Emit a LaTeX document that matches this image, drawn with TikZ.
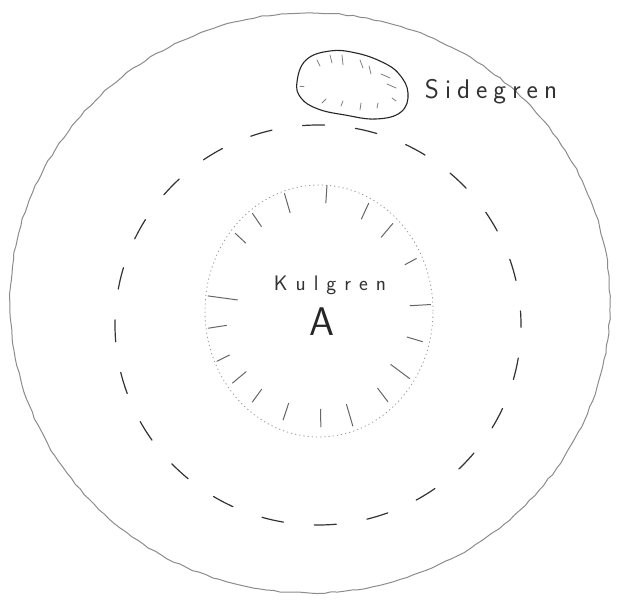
\documentclass[tikz,border=0pt]{standalone}
\usepackage{fontspec}
\usetikzlibrary{decorations.pathmorphing}
\begin{document}
\begin{tikzpicture}[x=1pt,y=-1pt,
  outerline/.style={draw=black!45, line width=1pt, decorate,
    decoration={random steps,segment length=7pt,amplitude=0.7pt}},
  dashline/.style={draw=black!80, line width=1.2pt, line cap=round,
    dash pattern=on 22pt off 31pt, dash phase=8pt},
  dotline/.style={draw=black!40, line width=0.8pt, dash pattern=on 1.2pt off 3pt},
  tickline/.style={draw=black!60, line width=1pt, line cap=round},
  blobline/.style={draw=black!85, line width=1.1pt},
  handtext/.style={text=black!80, inner sep=0pt, font=\sffamily}]
\useasboundingbox (0,0) rectangle (620,601);
\fill[white] (0,0) rectangle (620,601);

% outer circle
\draw[outerline] (310,303) ellipse [x radius=300pt, y radius=290pt];

% middle dashed circle
\draw[dashline] (318,325) ellipse [x radius=203pt, y radius=200pt];

% inner dotted circle
\draw[dotline] (319,311) ellipse [x radius=114pt, y radius=126pt];

% radial ticks in the inner circle
\foreach \a/\ri/\ro in {-108/0.82/0.98, -86/0.86/1.0, -63/0.82/0.96, -47/0.80/0.95,
  -26/0.84/0.95, -3/0.80/0.98, 15/0.80/0.94, 34/0.76/0.96, 50/0.80/0.94,
  72/0.78/0.96, 89/0.78/0.92, 110/0.78/0.92, 129/0.80/0.93, 143/0.80/0.95,
  156/0.86/0.98, 172/0.82/0.98, 187/0.72/0.98, 220/0.84/0.96, 233/0.84/0.97}
  \draw[tickline] ({319+114*\ri*cos(\a)},{311+126*\ri*sin(\a)}) --
                  ({319+114*\ro*cos(\a)},{311+126*\ro*sin(\a)});

% side branch blob
\draw[blobline] plot[smooth cycle, tension=0.7] coordinates {
  (297,82) (306,60) (330,51) (356,53) (382,62) (399,74) (408,93)
  (401,112) (376,119) (345,115) (318,109) (301,98)};
\foreach \p/\q in {{(317,60)}/{(320,66)}, {(330,55)}/{(332,63)}, {(342,55)}/{(343,65)},
  {(360,60)}/{(363,68)}, {(369,66)}/{(371,74)}, {(381,74)}/{(390,78)},
  {(387,84)}/{(396,88)}, {(392,98)}/{(396,101)}, {(322,103)}/{(326,99)},
  {(341,106)}/{(343,101)}, {(360,110)}/{(361,103)}, {(377,108)}/{(378,103)},
  {(300,86)}/{(304,86)}}
  \draw[tickline, draw=black!50, line width=0.8pt] \p -- \q;

% labels
\node[handtext, font=\sffamily\fontsize{27}{27}\selectfont] (side) at (491,92)
  {S\kern6pt i\kern6pt d\kern6pt e\kern6pt g\kern6pt r\kern6pt e\kern6pt n};
\node[handtext, font=\sffamily\fontsize{21}{21}\selectfont] (kul) at (330,285)
  {K\kern8pt u\kern8pt l\kern8pt g\kern8pt r\kern8pt e\kern8pt n};
\node[handtext, text=black!85, font=\sffamily\fontsize{40}{40}\selectfont] (a) at (322,322) {A};
\end{tikzpicture}
\end{document}
